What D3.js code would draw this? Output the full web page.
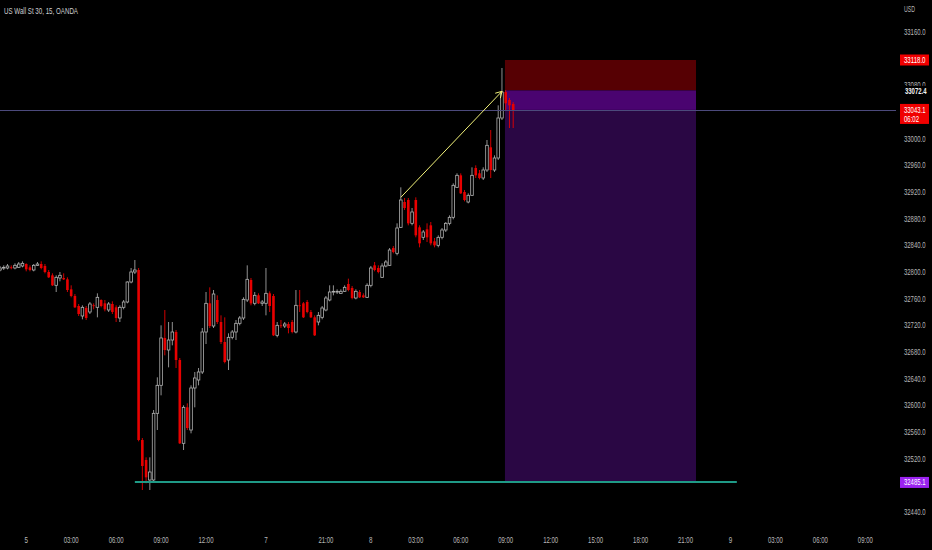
<!DOCTYPE html>
<html><head><meta charset="utf-8">
<script src="https://cdn.jsdelivr.net/npm/d3@7"></script>
<style>
html,body{margin:0;padding:0;background:#000;overflow:hidden}
svg{display:block}
</style>
</head><body>
<svg id="chart" width="932" height="550"></svg>
<script>
// ---- DATA ----
const title = "US Wall St 30, 15, OANDA";
const currency = "USD";
const opens  = [32803,32806,32806,32807,32806,32807,32809,32812,32807,32803,32810,32812,32809,32800,32795,32780,32791,32791,32789,32774,32764,32749,32734,32746,32740,32750,32747,32758,32753,32743,32752,32747,32731,32747,32755,32785,32800,32803,32548,32518,32488,32488,32588,32630,32701,32683,32698,32710,32668,32543,32597,32563,32626,32638,32650,32710,32753,32719,32758,32725,32695,32668,32702,32710,32723,32731,32758,32788,32753,32765,32753,32753,32768,32764,32705,32720,32719,32722,32725,32710,32750,32753,32755,32740,32732,32725,32732,32743,32758,32770,32770,32768,32771,32782,32776,32761,32770,32765,32762,32780,32810,32806,32792,32809,32810,32836,32828,32867,32905,32908,32873,32908,32867,32852,32864,32870,32846,32840,32852,32863,32873,32882,32927,32945,32920,32905,32915,32956,32948,32941,32953,32987,32953,32971,33031,33070,33058,33052];
const highs  = [32809,32810,32812,32810,32813,32815,32816,32813,32810,32812,32815,32816,32812,32803,32798,32795,32800,32798,32792,32780,32767,32752,32750,32749,32755,32753,32768,32759,32758,32755,32756,32750,32750,32758,32786,32806,32818,32806,32551,32522,32522,32593,32642,32720,32743,32725,32725,32713,32671,32600,32603,32630,32650,32656,32716,32770,32777,32773,32765,32735,32732,32708,32713,32728,32734,32762,32810,32791,32770,32768,32758,32806,32771,32767,32725,32728,32725,32725,32728,32773,32773,32755,32758,32743,32735,32740,32749,32764,32780,32780,32774,32774,32780,32790,32779,32774,32773,32768,32783,32809,32815,32810,32813,32818,32836,32839,32873,32927,32911,32911,32896,32912,32870,32863,32873,32875,32851,32855,32866,32875,32885,32933,32948,32948,32923,32918,32957,32960,32953,32957,32998,33013,32975,33050,33106,33073,33061,33055];
const lows   = [32801,32803,32804,32804,32804,32806,32807,32801,32801,32801,32809,32804,32798,32791,32779,32770,32786,32788,32770,32762,32746,32734,32729,32728,32737,32744,32732,32747,32741,32740,32737,32725,32725,32744,32753,32783,32797,32546,32473,32483,32473,32485,32563,32615,32675,32657,32690,32656,32542,32533,32563,32558,32597,32630,32647,32692,32716,32716,32722,32692,32663,32653,32699,32698,32720,32728,32755,32750,32750,32752,32749,32735,32740,32704,32702,32716,32716,32708,32708,32708,32740,32731,32738,32731,32704,32720,32729,32741,32756,32765,32767,32767,32770,32771,32759,32759,32761,32761,32761,32777,32801,32798,32791,32807,32809,32828,32825,32866,32893,32870,32870,32852,32837,32848,32845,32840,32837,32837,32849,32860,32870,32879,32926,32917,32906,32903,32914,32941,32939,32938,32950,32941,32950,32968,33028,33043,33016,33016];
const closes = [32806,32807,32809,32806,32810,32812,32813,32804,32803,32810,32812,32806,32800,32792,32780,32792,32795,32789,32773,32764,32747,32737,32747,32731,32752,32749,32762,32749,32744,32752,32740,32731,32747,32755,32785,32800,32803,32548,32509,32492,32500,32588,32630,32701,32683,32698,32710,32668,32543,32597,32566,32626,32641,32650,32710,32753,32719,32767,32725,32695,32665,32702,32710,32723,32731,32759,32789,32753,32765,32753,32755,32768,32749,32705,32720,32719,32722,32716,32710,32750,32749,32732,32740,32732,32705,32735,32746,32761,32770,32771,32771,32771,32777,32773,32761,32771,32762,32762,32780,32806,32803,32800,32809,32815,32833,32830,32866,32908,32896,32873,32890,32855,32843,32860,32852,32843,32840,32852,32863,32873,32882,32930,32945,32918,32908,32915,32945,32945,32941,32953,32990,32953,32971,33031,33070,33053,33050,33043];

const xTickLabels = ["5","03:00","06:00","09:00","12:00","7","21:00","8","03:00","06:00","09:00","12:00","15:00","18:00","21:00","9","03:00","06:00","09:00"];
const xTickBars   = [7,19,31,43,55,71,87,99,111,123,135,147,159,171,183,195,207,219,231];
// ticks that are not hidden behind the price labels
const yTickValues = [32440,32520,32560,32600,32640,32680,32720,32760,32800,32840,32880,32920,32960,33000,33080,33160];

const stopPrice = 33118.0;
const entryPrice = 33072.4;
const targetPrice = 32485.1;
const lastPrice = 33043.1;
const countdown = "06:02";
const positionBars = [134.8, 185.8];
const supportBars = [36, 196.7];
const arrowBars = [107, 134];
const arrowPrices = [32912, 33071];

// ---- SETUP ----
const W = 932, H = 550;
const svg = d3.select("#chart");
const x = d3.scaleLinear().domain([0, 248.8]).range([0, W]);
const y = d3.scaleLinear().domain([32383, 33208]).range([H, 0]);

const candles = opens.map((o, i) => ({i, o, h: highs[i], l: lows[i], c: closes[i]}));

svg.append("rect").attr("width", W).attr("height", H).attr("fill", "#000");

const plot = svg.append("g");

// Position zones
const zx = x(positionBars[0]), zw = x(positionBars[1]) - x(positionBars[0]);
plot.append("rect").attr("x", zx).attr("width", zw)
  .attr("y", y(stopPrice)).attr("height", y(entryPrice) - y(stopPrice))
  .attr("fill", "#560003");
plot.append("rect").attr("x", zx).attr("width", zw)
  .attr("y", y(entryPrice)).attr("height", y(lastPrice) - y(entryPrice))
  .attr("fill", "#4a0470");
plot.append("rect").attr("x", zx).attr("width", zw)
  .attr("y", y(lastPrice)).attr("height", y(targetPrice) - y(lastPrice))
  .attr("fill", "#2a0744");

// Candles
const bw = 2.6;
const cg = plot.append("g");
cg.selectAll("line.wick").data(candles).join("line")
  .attr("x1", d => x(d.i)).attr("x2", d => x(d.i))
  .attr("y1", d => y(d.h)).attr("y2", d => y(d.l))
  .attr("stroke", d => d.c >= d.o ? "#a0a0a0" : "#e80000")
  .attr("stroke-width", 0.9);
cg.selectAll("rect.body").data(candles).join("rect")
  .attr("x", d => x(d.i) - bw / 2)
  .attr("width", bw)
  .attr("y", d => y(Math.max(d.o, d.c)))
  .attr("height", d => Math.max(0.8, Math.abs(y(d.o) - y(d.c))))
  .attr("fill", d => d.c >= d.o ? "#000" : "#e80000")
  .attr("stroke", d => d.c >= d.o ? "#b0b0b0" : "none")
  .attr("stroke-width", 0.8);

// Support line
plot.append("line")
  .attr("x1", x(supportBars[0])).attr("x2", x(supportBars[1]))
  .attr("y1", y(targetPrice)).attr("y2", y(targetPrice))
  .attr("stroke", "#1f9a86").attr("stroke-width", 2);

// Last price line
const ly = Math.round(y(lastPrice)) + 0.5;
plot.append("line").attr("x1", 0).attr("x2", 896).attr("y1", ly).attr("y2", ly)
  .attr("stroke", "#4c4a7c").attr("stroke-width", 1);

// Arrow
const ax1 = x(arrowBars[0]), ay1 = y(arrowPrices[0]);
const ax2 = x(arrowBars[1]), ay2 = y(arrowPrices[1]);
plot.append("line").attr("x1", ax1).attr("y1", ay1).attr("x2", ax2).attr("y2", ay2)
  .attr("stroke", "#f2f27a").attr("stroke-width", 1);
const ang = Math.atan2(ay2 - ay1, ax2 - ax1);
const hl = 7;
[Math.PI * 0.83, -Math.PI * 0.83].forEach(a => {
  plot.append("line").attr("x1", ax2).attr("y1", ay2)
    .attr("x2", ax2 + hl * Math.cos(ang + a)).attr("y2", ay2 + hl * Math.sin(ang + a))
    .attr("stroke", "#f2f27a").attr("stroke-width", 1);
});

// ---- TEXT ----
const font = "'Liberation Sans Narrow','Liberation Sans',Arial,sans-serif";
function label(g, txt, xx, yy, opts = {}) {
  const gg = g.append("g");
  const t = gg.append("text").attr("x", 0).attr("y", 0).text(txt)
    .attr("font-family", font).attr("font-size", opts.size || 8.5)
    .attr("fill", opts.fill || "#b8b8b8");
  if (opts.weight) t.attr("font-weight", opts.weight);
  const nat = t.node().getComputedTextLength() || 1;
  const len = opts.len || nat;
  const sx = len / nat;
  const left = opts.anchor === "middle" ? xx - len / 2 : xx;
  gg.attr("transform", `translate(${left},${yy}) scale(${sx},1)`);
  return gg;
}

// Title
label(svg, title, 4, 14, {size: 9, fill: "#d0d0d0", len: 74});

// Right axis
const axisG = svg.append("g");
label(axisG, currency, 904, 12, {len: 11});
yTickValues.forEach(v => {
  label(axisG, d3.format(".1f")(v), 904, y(v) + 3, {len: 21.5});
});

// Price labels
const lx = 900, lw = 29;
axisG.append("rect").attr("x", lx).attr("y", y(stopPrice) - 5.5).attr("width", lw).attr("height", 11).attr("fill", "#f00000");
label(axisG, d3.format(".1f")(stopPrice), 904, y(stopPrice) + 3, {fill: "#fff", len: 21.5});

axisG.append("rect").attr("x", 898).attr("y", y(entryPrice) - 4.5).attr("width", 34).attr("height", 10).attr("fill", "#000");
label(axisG, d3.format(".1f")(entryPrice), 905, y(entryPrice) + 3.5, {fill: "#f4f4f4", len: 21.5, weight: "bold"});

axisG.append("rect").attr("x", lx).attr("y", y(lastPrice) - 6).attr("width", lw).attr("height", 20).attr("fill", "#f00000");
label(axisG, d3.format(".1f")(lastPrice), 904, y(lastPrice) + 3, {fill: "#fff", len: 21.5});
label(axisG, countdown, 904, y(lastPrice) + 12, {fill: "#fff", len: 15});

axisG.append("rect").attr("x", lx).attr("y", y(targetPrice) - 5).attr("width", lw).attr("height", 11).attr("fill", "#9b22f0");
label(axisG, d3.format(".1f")(targetPrice), 904, y(targetPrice) + 3.5, {fill: "#fff", len: 21.5});

// Bottom axis
const bottomG = svg.append("g");
xTickLabels.forEach((t, k) => {
  label(bottomG, t, x(xTickBars[k]), 543, {anchor: "middle", len: t.length > 1 ? 15 : 3.5});
});
</script>
</body></html>
